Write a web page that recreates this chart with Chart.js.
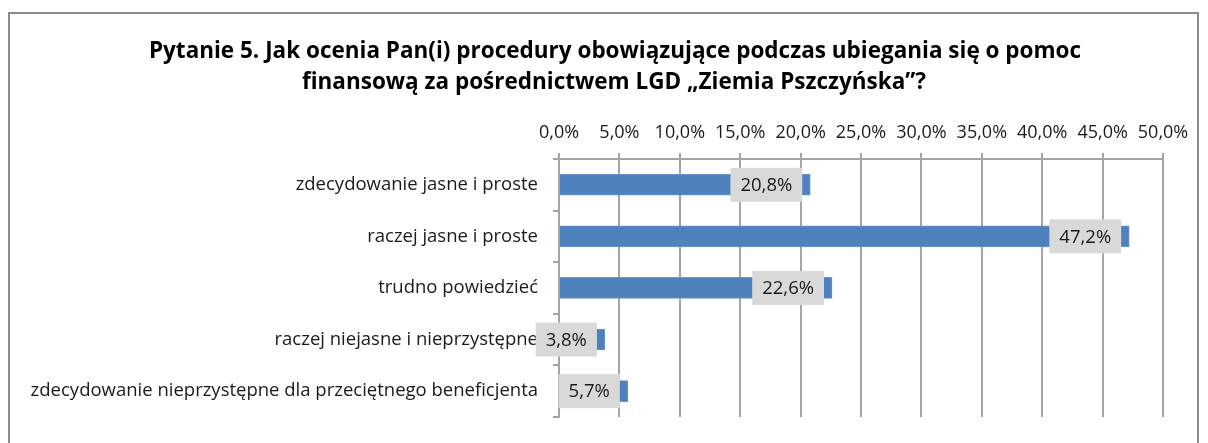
<!DOCTYPE html>
<html>
<head>
<meta charset="utf-8">
<script src="https://cdn.jsdelivr.net/npm/chart.js@4"></script>
<style>
html,body{margin:0;padding:0;background:#fff;}
#wrap{position:relative;width:1208px;height:443px;}
canvas{display:block;}
</style>
</head>
<body>
<div id="wrap"><canvas id="c" width="1208" height="443"></canvas></div>
<script>
const titleLines = ["Pytanie 5. Jak ocenia Pan(i) procedury obowiązujące podczas ubiegania się o pomoc", "finansową za pośrednictwem LGD \u201eZiemia Pszczyńska\u201d?"];
const categories = ["zdecydowanie jasne i proste", "raczej jasne i proste", "trudno powiedzieć", "raczej niejasne i nieprzystępne", "zdecydowanie nieprzystępne dla przeciętnego beneficjenta"];
const values = [20.8, 47.2, 22.6, 3.8, 5.7];
const axisMin = 0, axisMax = 50, axisStep = 5;

const FONT = "'Open Sans', sans-serif";
const fmt = v => v.toFixed(1).replace('.', ',') + '%';

const framePlugin = {
  id: 'frame',
  beforeDraw(chart) {
    const ctx = chart.ctx;
    ctx.save();
    ctx.fillStyle = '#fff';
    ctx.fillRect(0, 0, chart.width, chart.height);
    ctx.strokeStyle = '#8c8c8c';
    ctx.lineWidth = 2;
    ctx.strokeRect(9, 13, 1189, 500);
    ctx.fillStyle = '#000';
    ctx.font = "bold 22.5px " + FONT;
    ctx.textAlign = 'center';
    ctx.textBaseline = 'middle';
    ctx.fillText(titleLines[0], 615, 52);
    ctx.fillText(titleLines[1], 614, 83);
    ctx.restore();
  }
};

const labelPlugin = {
  id: 'barLabels',
  afterDatasetsDraw(chart) {
    const ctx = chart.ctx;
    const meta = chart.getDatasetMeta(0);
    ctx.save();
    ctx.font = "18.5px " + FONT;
    ctx.textBaseline = 'middle';
    ctx.textAlign = 'center';
    meta.data.forEach((bar, i) => {
      const t = fmt(values[i]);
      const tw = ctx.measureText(t).width;
      const bw = tw + 20, bh = 34;
      const right = bar.x - 8;
      const left = right - bw;
      ctx.fillStyle = '#d9d9d9';
      ctx.fillRect(left, bar.y - bh / 2, bw, bh);
      ctx.fillStyle = '#1a1a1a';
      ctx.fillText(t, left + bw / 2, bar.y + 1);
    });
    ctx.restore();
  }
};

new Chart(document.getElementById('c'), {
  type: 'bar',
  data: {
    labels: categories,
    datasets: [{
      data: values,
      backgroundColor: '#4f81bd',
      borderColor: '#6a95c9',
      borderWidth: 1,
      barThickness: 21
    }]
  },
  options: {
    indexAxis: 'y',
    responsive: false,
    animation: false,
    events: [],
    layout: { padding: { top: 100, left: 0, right: 45, bottom: 22 } },
    plugins: { legend: { display: false }, tooltip: { enabled: false }, title: { display: false } },
    scales: {
      x: {
        position: 'top',
        min: axisMin, max: axisMax,
        afterFit(s) { s.height = 59; },
        ticks: {
          stepSize: axisStep,
          color: '#1a1a1a',
          font: { family: FONT, size: 18 },
          padding: 9,
          callback: v => fmt(v)
        },
        grid: { color: '#a5a5a5', lineWidth: 2, tickLength: 6, drawTicks: true },
        border: { color: '#a5a5a5', width: 2 }
      },
      y: {
        afterFit(s) { s.width = 559; },
        ticks: {
          color: '#1a1a1a',
          font: { family: FONT, size: 18.5 },
          padding: 15
        },
        grid: { drawOnChartArea: false, color: '#a5a5a5', lineWidth: 2, tickLength: 6, offset: true },
        border: { color: '#a5a5a5', width: 2 }
      }
    }
  },
  plugins: [framePlugin, labelPlugin]
});
</script>
</body>
</html>
